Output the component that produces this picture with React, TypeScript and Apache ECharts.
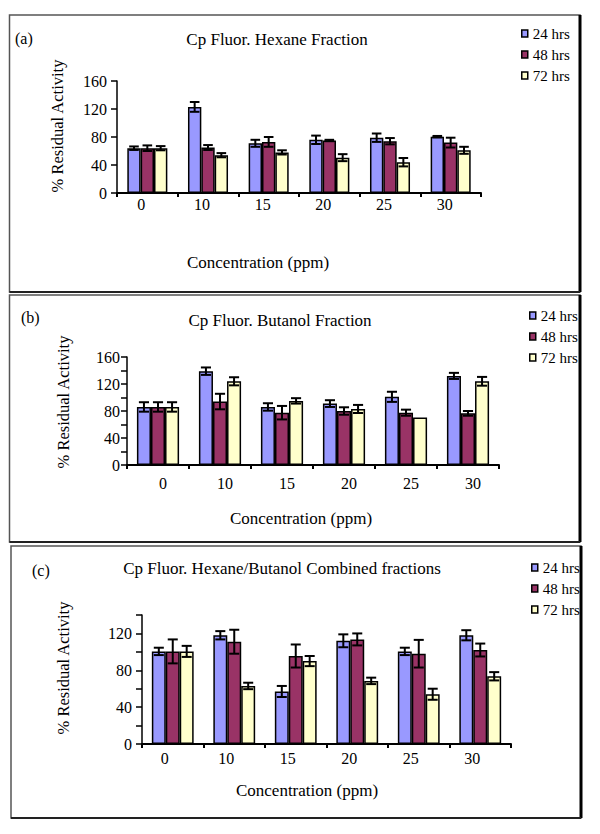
import React, { useEffect, useRef } from "react";
import * as echarts from "echarts";

const categories = ["0", "10", "15", "20", "25", "30"];
const seriesNames = ["24 hrs", "48 hrs", "72 hrs"];

const hexane24 = [64, 123, 71, 76, 79, 80.5];
const hexane24Err = [2.5, 7, 5, 6, 6, 1];
const hexane48 = [64, 65, 73, 75, 74, 72];
const hexane48Err = [4, 3.5, 7, 1, 4.5, 7];
const hexane72 = [64, 54, 58, 50.5, 44, 61];
const hexane72Err = [3, 3, 3, 5, 6, 5];

const butanol24 = [86, 139, 86, 91, 101, 132];
const butanol24Err = [7, 5.5, 5.5, 5, 7.5, 4.5];
const butanol48 = [86, 94, 77.5, 80, 77.5, 76.5];
const butanol48Err = [7, 11.5, 10, 5.5, 4.5, 3.5];
const butanol72 = [86, 124, 95, 83, 70.5, 124];
const butanol72Err = [7, 6, 4, 6, 0, 6.5];

const combined24 = [100.5, 118, 57, 112, 100.5, 118];
const combined24Err = [4, 4.5, 6, 7, 4, 5.5];
const combined48 = [100.5, 111, 95.5, 113.5, 98, 102];
const combined48Err = [13, 13, 12.5, 6.5, 15, 7];
const combined72 = [100.5, 63, 90, 68.5, 54, 73.5];
const combined72Err = [6, 3.5, 5.5, 3.5, 6, 4.5];

const yTickLabels = [0, 40, 80, 120, 160];

const titles = [
  "Cp Fluor. Hexane Fraction",
  "Cp Fluor. Butanol Fraction",
  "Cp Fluor. Hexane/Butanol Combined fractions",
];
const panelLetters = ["(a)", "(b)", "(c)"];
const xName = "Concentration (ppm)";
const yName = "% Residual Activity";

const COLORS = ["#9999FF", "#993366", "#FFFFCC"];
const FONT = "Liberation Serif, Times New Roman, serif";

const layouts = [
  {
    box: { x: 9.5, y: 15, w: 570.5, h: 277 },
    grid: { left: 117, top: 81, width: 364, height: 112 },
    max: 160, interval: 40, gap: 0.34, xMargin: 3, xPad: [0, 12, 0, 0], yMargin: 10,
    title: { x: 277, y: 39 }, letter: { x: 15, y: 38 },
    xName: { x: 258, y: 262 }, yName: { x: 57, y: 126 },
    legend: { left: 521, top: 26 },
  },
  {
    box: { x: 9.5, y: 295, w: 570.5, h: 247 },
    grid: { left: 127, top: 357, width: 372, height: 108 },
    max: 160, interval: 20, gap: 0.32, xMargin: 10, xPad: [0, 0, 0, 10], yMargin: 7,
    title: { x: 280, y: 320 }, letter: { x: 21, y: 317 },
    xName: { x: 301, y: 518 }, yName: { x: 63, y: 402 },
    legend: { left: 529, top: 308 },
  },
  {
    box: { x: 11, y: 546, w: 570, h: 272 },
    grid: { left: 142, top: 615, width: 369, height: 129 },
    max: 140, interval: 20, gap: 0.32, xMargin: 6, xPad: [0, 16, 0, 0], yMargin: 10,
    title: { x: 282, y: 568 }, letter: { x: 32, y: 570 },
    xName: { x: 307, y: 790 }, yName: { x: 63, y: 668 },
    legend: { left: 531, top: 560 },
  },
];

const panelValues = [
  [hexane24, hexane48, hexane72],
  [butanol24, butanol48, butanol72],
  [combined24, combined48, combined72],
];
const panelErrors = [
  [hexane24Err, hexane48Err, hexane72Err],
  [butanol24Err, butanol48Err, butanol72Err],
  [combined24Err, combined48Err, combined72Err],
];

function makeErrRender(seriesIdx: number, gapFrac: number) {
  return (params: any, api: any) => {
    const cat = api.value(0);
    const v = api.value(1);
    const e = api.value(2);
    if (!e) return { type: "group", children: [] };
    const band = api.size([1, 0])[0];
    const groupW = band * (1 - gapFrac);
    const barW = groupW / 3;
    const c = api.coord([cat, v]);
    const x = c[0] - groupW / 2 + (seriesIdx + 0.5) * barW;
    const top = api.coord([cat, v + e])[1];
    const bot = api.coord([cat, v - e])[1];
    const cap = barW * 0.36;
    const st = { stroke: "#000", lineWidth: 2 };
    return {
      type: "group",
      children: [
        { type: "line", shape: { x1: x, y1: top, x2: x, y2: bot }, style: st },
        { type: "line", shape: { x1: x - cap, y1: top, x2: x + cap, y2: top }, style: st },
        { type: "line", shape: { x1: x - cap, y1: bot, x2: x + cap, y2: bot }, style: st },
      ],
    };
  };
}

export default function App() {
  const ref = useRef<HTMLDivElement>(null);
  useEffect(() => {
    if (!ref.current) return;
    const chart = echarts.init(ref.current, null, { renderer: "svg" });
    const grids: any[] = [];
    const xAxes: any[] = [];
    const yAxes: any[] = [];
    const series: any[] = [];
    const legends: any[] = [];
    const graphics: any[] = [];

    layouts.forEach((L, p) => {
      grids.push({ ...L.grid, containLabel: false });
      xAxes.push({
        type: "category",
        gridIndex: p,
        data: categories,
        axisLine: { lineStyle: { color: "#000", width: 2 } },
        axisTick: { show: true, length: 4, lineStyle: { color: "#000", width: 2 } },
        axisLabel: { color: "#000", fontSize: 16, fontFamily: FONT, margin: L.xMargin, padding: L.xPad },
        splitLine: { show: false },
      });
      yAxes.push({
        type: "value",
        gridIndex: p,
        min: 0,
        max: L.max,
        interval: L.interval,
        axisLine: { show: true, lineStyle: { color: "#000", width: 1.5 } },
        axisTick: { show: true, length: 6, lineStyle: { color: "#000", width: 1.5 } },
        axisLabel: {
          color: "#000",
          fontSize: 16,
          fontFamily: FONT,
          margin: L.yMargin,
          formatter: (v: number) => (yTickLabels.includes(v) ? String(v) : ""),
        },
        splitLine: { show: false },
      });
      panelValues[p].forEach((vals, s) => {
        series.push({
          name: seriesNames[s],
          type: "bar",
          xAxisIndex: p,
          yAxisIndex: p,
          data: vals,
          barGap: "0%",
          barCategoryGap: Math.round(L.gap * 100) + "%",
          itemStyle: { color: COLORS[s], borderColor: "#000", borderWidth: 1.5 },
          z: 2,
        });
      });
      panelValues[p].forEach((vals, s) => {
        series.push({
          type: "custom",
          name: "err" + p + s,
          xAxisIndex: p,
          yAxisIndex: p,
          renderItem: makeErrRender(s, L.gap),
          encode: { x: 0, y: 1 },
          data: vals.map((v, i) => [i, v, panelErrors[p][s][i]]),
          z: 5,
        });
      });
      legends.push({
        orient: "vertical",
        left: L.legend.left,
        top: L.legend.top,
        padding: 0,
        icon: "rect",
        itemWidth: 6,
        itemHeight: 7,
        itemGap: 6,
        selectedMode: false,
        data: seriesNames,
        itemStyle: { borderColor: "#000", borderWidth: 1.5 },
        textStyle: { color: "#000", fontSize: 15, fontFamily: FONT, lineHeight: 14 },
      });
      const b = L.box;
      graphics.push({
        type: "rect",
        shape: { x: b.x, y: b.y, width: b.w, height: b.h },
        style: { fill: "none", stroke: "#555", lineWidth: 1.5 },
        silent: true,
      });
      graphics.push({
        type: "line",
        shape: { x1: b.x + b.w, y1: b.y, x2: b.x + b.w, y2: b.y + b.h },
        style: { stroke: "#000", lineWidth: 3 },
        silent: true,
      });
      graphics.push({
        type: "line",
        shape: { x1: b.x, y1: b.y + b.h, x2: b.x + b.w, y2: b.y + b.h },
        style: { stroke: "#222", lineWidth: 2 },
        silent: true,
      });
      graphics.push({
        type: "text",
        x: L.title.x,
        y: L.title.y,
        style: { text: titles[p], font: "17px " + FONT, fill: "#000", textAlign: "center", textVerticalAlign: "middle" },
      });
      graphics.push({
        type: "text",
        x: L.letter.x,
        y: L.letter.y,
        style: { text: panelLetters[p], font: "16px " + FONT, fill: "#000", textAlign: "left", textVerticalAlign: "middle" },
      });
      graphics.push({
        type: "text",
        x: L.xName.x,
        y: L.xName.y,
        style: { text: xName, font: "17px " + FONT, fill: "#000", textAlign: "center", textVerticalAlign: "middle" },
      });
      graphics.push({
        type: "text",
        x: L.yName.x,
        y: L.yName.y,
        rotation: Math.PI / 2,
        style: { text: yName, font: "16.5px " + FONT, fill: "#000", textAlign: "center", textVerticalAlign: "middle" },
      });
    });

    chart.setOption({
      animation: false,
      backgroundColor: "#fff",
      textStyle: { fontFamily: FONT },
      grid: grids,
      xAxis: xAxes,
      yAxis: yAxes,
      legend: legends,
      series,
      graphic: graphics,
    });
    return () => chart.dispose();
  }, []);
  return (
    <div
      ref={ref}
      style={{ position: "absolute", left: 0, top: 0, width: 600, height: 834, background: "#fff" }}
    />
  );
}
